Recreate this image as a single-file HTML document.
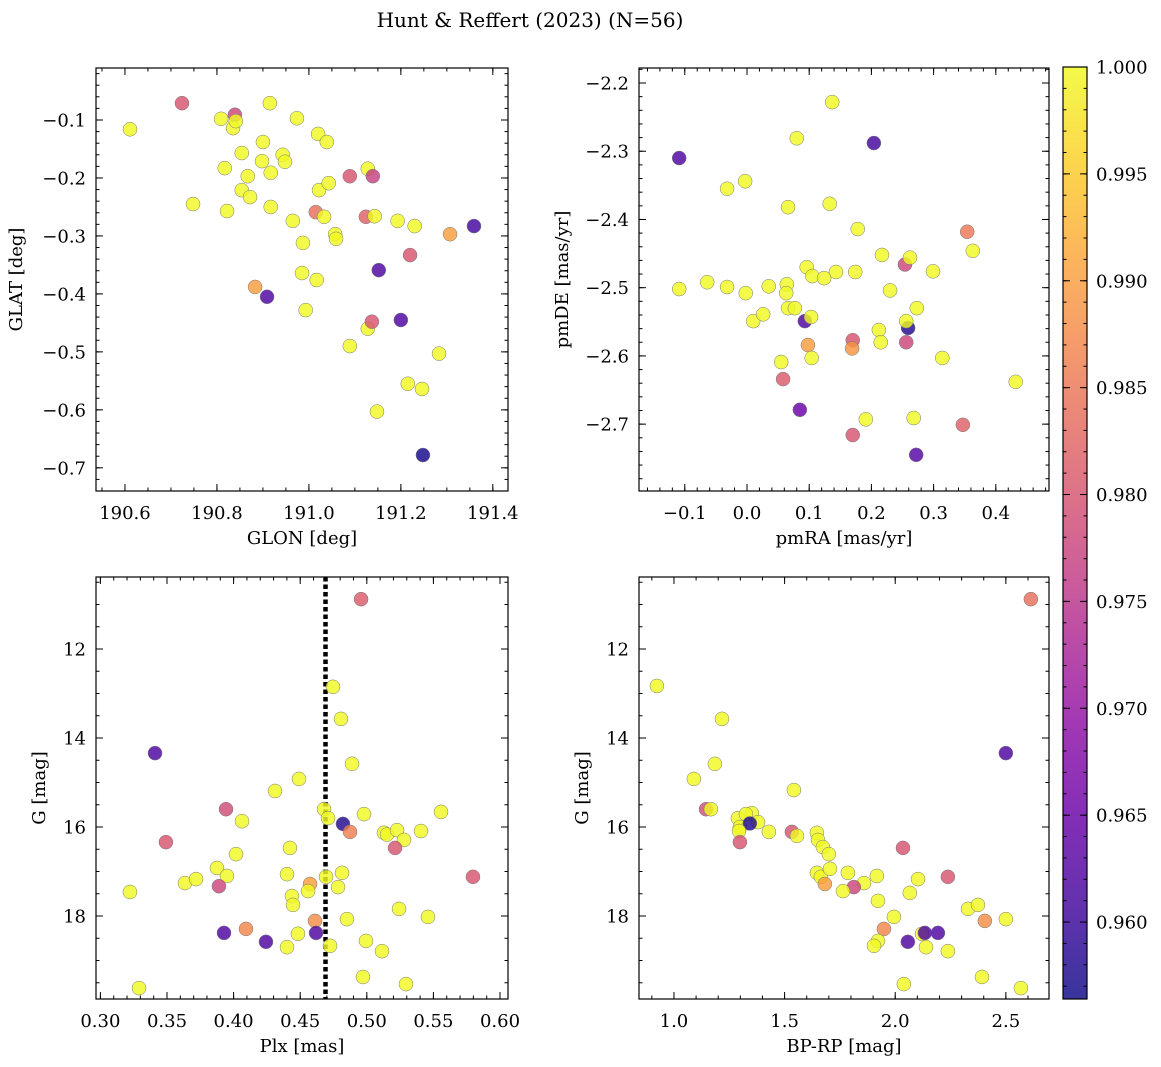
<!DOCTYPE html>
<html><head><meta charset="utf-8">
<style>
html,body{margin:0;padding:0;background:#fff;}
svg{display:block;font-family:"DejaVu Serif","Liberation Serif",serif;}
</style></head>
<body>
<svg id="fig" width="1161" height="1067" viewBox="0 0 1161 1067">
<text x="530" y="27" text-anchor="middle" font-size="20">Hunt &amp; Reffert (2023) (N=56)</text>
</svg>
<script>
// ---- Panel 1: GLON vs GLAT ----
const p1Glon=[190.611,190.724,190.809,190.839,190.835,190.841,190.915,190.974,190.900,190.854,190.817,190.867,190.898,190.943,190.948,191.020,191.039,190.917,190.854,190.872,190.748,190.822,190.917,191.022,191.043,191.089,191.128,191.139,190.965,191.015,191.033,191.124,191.143,191.193,191.230,191.359,191.307,191.057,191.059,190.987,191.152,191.220,190.985,191.017,190.883,190.909,190.993,191.089,191.128,191.137,191.200,191.283,191.215,191.246,191.148,191.248];
const p1Glat=[-0.116,-0.071,-0.098,-0.091,-0.114,-0.102,-0.071,-0.097,-0.138,-0.157,-0.183,-0.197,-0.171,-0.160,-0.172,-0.124,-0.138,-0.191,-0.221,-0.233,-0.245,-0.257,-0.250,-0.221,-0.209,-0.197,-0.184,-0.197,-0.274,-0.259,-0.267,-0.267,-0.266,-0.274,-0.283,-0.283,-0.297,-0.297,-0.305,-0.312,-0.359,-0.333,-0.364,-0.376,-0.388,-0.405,-0.428,-0.490,-0.460,-0.448,-0.445,-0.503,-0.555,-0.564,-0.603,-0.678];
const p1Prob=[1,0.980,1,0.978,1,1,1,1,1,1,1,1,1,1,1,1,1,1,1,1,1,1,1,1,1,0.980,1,0.977,1,0.984,1,0.982,1,1,1,0.961,0.990,1,1,1,0.962,0.980,1,1,0.990,0.962,1,1,1,0.980,0.962,1,1,1,1,0.957];
// ---- Panel 2: pmRA vs pmDE ----
const p2PmRA=[0.137,-0.109,0.204,0.080,-0.032,-0.003,0.066,0.133,0.178,0.354,0.363,0.096,0.143,0.174,0.217,0.254,0.262,0.299,-0.109,-0.064,-0.032,-0.002,0.035,0.064,0.063,0.105,0.124,0.230,0.010,0.026,0.066,0.077,0.093,0.103,0.259,0.256,0.212,0.170,0.215,0.256,0.098,0.104,0.169,0.314,0.055,0.058,0.273,0.432,0.085,0.191,0.268,0.170,0.347,0.272];
const p2PmDE=[-2.228,-2.310,-2.288,-2.281,-2.355,-2.344,-2.382,-2.377,-2.414,-2.418,-2.446,-2.470,-2.477,-2.477,-2.452,-2.466,-2.456,-2.476,-2.502,-2.492,-2.499,-2.508,-2.498,-2.495,-2.508,-2.483,-2.486,-2.504,-2.549,-2.539,-2.530,-2.530,-2.549,-2.543,-2.559,-2.549,-2.562,-2.577,-2.580,-2.580,-2.584,-2.603,-2.589,-2.603,-2.609,-2.634,-2.530,-2.638,-2.679,-2.693,-2.691,-2.716,-2.701,-2.745];
const p2Prob=[1,0.962,0.961,1,1,1,1,1,1,0.985,1,1,1,1,1,0.978,1,1,1,1,1,1,1,1,1,1,1,1,1,1,1,1,0.962,1,0.958,1,1,0.980,1,0.978,0.990,1,0.989,1,1,0.981,1,1,0.965,1,1,0.980,0.982,0.963];
// ---- Panel 3: Plx vs G ----
const p3Plx=[0.4957,0.4746,0.4806,0.341,0.4889,0.4491,0.4311,0.3943,0.4679,0.4979,0.5557,0.4709,0.4821,0.4063,0.5129,0.5152,0.5227,0.5407,0.5279,0.4874,0.3492,0.5212,0.4423,0.4018,0.3875,0.3222,0.3635,0.3718,0.3950,0.3890,0.4401,0.4814,0.4694,0.4574,0.4784,0.5797,0.4559,0.4438,0.4446,0.5242,0.5459,0.4851,0.4611,0.3928,0.4093,0.4483,0.4619,0.4994,0.4243,0.4401,0.4724,0.5114,0.4971,0.5294,0.3290];
const p3G=[10.88,12.85,13.57,14.34,14.58,14.92,15.19,15.60,15.60,15.71,15.66,15.80,15.93,15.87,16.13,16.17,16.07,16.09,16.29,16.11,16.34,16.47,16.47,16.61,16.92,17.46,17.26,17.17,17.10,17.33,17.06,17.03,17.12,17.28,17.35,17.12,17.44,17.55,17.75,17.84,18.02,18.07,18.11,18.38,18.29,18.40,18.38,18.56,18.58,18.70,18.67,18.79,19.37,19.53,19.62];
const p3Prob=[0.981,1,1,0.962,1,1,1,0.979,1,1,1,1,0.958,1,1,1,1,1,1,0.986,0.980,0.980,1,1,1,1,1,1,1,0.978,1,1,1,0.990,1,0.980,1,1,1,1,1,1,0.988,0.962,0.987,1,0.962,1,0.962,1,1,1,1,1,1];
const plxRef=[0.469];
// ---- Panel 4: BP-RP vs G ----
const p4Color=[2.613,0.923,1.217,1.185,1.090,2.500,1.542,1.145,1.167,1.289,1.352,1.325,1.380,1.298,1.343,1.429,1.294,1.533,1.556,1.646,1.651,1.298,1.673,1.700,2.035,1.646,1.664,1.682,1.705,1.786,1.859,1.813,1.917,1.764,2.103,2.238,2.066,1.922,2.329,2.374,2.500,2.405,1.994,1.949,1.922,1.904,2.121,2.134,2.193,2.057,2.139,2.238,2.039,2.392,2.568];
const p4G=[10.88,12.83,13.57,14.58,14.92,14.34,15.17,15.60,15.60,15.80,15.69,15.71,15.89,16.00,15.92,16.11,16.09,16.11,16.20,16.13,16.29,16.34,16.45,16.61,16.47,17.03,17.12,17.28,16.94,17.03,17.26,17.35,17.10,17.44,17.17,17.12,17.48,17.66,17.84,17.75,18.07,18.11,18.02,18.29,18.56,18.67,18.40,18.38,18.38,18.58,18.70,18.79,19.53,19.37,19.62];
const p4Prob=[0.984,1,1,1,1,0.962,1,0.979,1,1,1,1,1,1,0.958,1,1,0.980,1,1,1,0.980,1,1,0.980,1,1,0.990,1,1,1,0.978,1,1,1,0.980,1,1,1,1,1,0.988,1,0.987,1,1,1,0.962,0.962,0.962,1,1,1,1,1];
// ---- Colorbar ----
const cbTicks=[1.000,0.995,0.990,0.985,0.980,0.975,0.970,0.965,0.960];
const cbMin=0.9564, cbMax=1.0;

const NS="http://www.w3.org/2000/svg";
const svg=document.getElementById('fig');
function mk(tag,attrs,parent){const e=document.createElementNS(NS,tag);for(const k in attrs)e.setAttribute(k,attrs[k]);(parent||svg).appendChild(e);return e;}
const plasma=[[13,8,135],[65,4,157],[106,0,168],[143,13,164],[177,42,144],[204,71,120],[225,100,98],[242,132,75],[252,166,54],[252,206,37],[240,249,33]];
function cmap(v){let t=(v-cbMin)/(cbMax-cbMin);t=Math.max(0,Math.min(1,t));const f=t*10,i=Math.min(9,Math.floor(f)),r=f-i;const a=plasma[i],b=plasma[i+1];return 'rgb('+a.map((c,k)=>Math.round(c+(b[k]-c)*r)).join(',')+')';}
function fmt(v,d){return (v<0?'\u2212':'')+Math.abs(v).toFixed(d);}
const TF=18, LF=18;

function panel(o){
  const g=mk('g',{});
  
  
  const sx=v=>o.x0+(v-o.xmin)/(o.xmax-o.xmin)*(o.x1-o.x0);
  const sy=o.yinv?(v=>o.y0+(v-o.ymin)/(o.ymax-o.ymin)*(o.y1-o.y0)):(v=>o.y1-(v-o.ymin)/(o.ymax-o.ymin)*(o.y1-o.y0));
  o.sx=sx;o.sy=sy;
  const tg=mk('g',{stroke:'#000','stroke-width':1},g);
  const eps=1e-9;
  function ticks(min,max,step){const a=[];let s=Math.ceil((min-eps)/step);for(let k=s;k*step<=max+eps;k++)a.push(k*step);return a;}
  for(const v of ticks(o.xmin,o.xmax,o.xminor)){const x=sx(v);mk('line',{x1:x,x2:x,y1:o.y1,y2:o.y1-3.5},tg);mk('line',{x1:x,x2:x,y1:o.y0,y2:o.y0+3.5},tg);}
  for(const v of ticks(o.ymin,o.ymax,o.yminor)){const y=sy(v);mk('line',{x1:o.x0,x2:o.x0+3.5,y1:y,y2:y},tg);mk('line',{x1:o.x1,x2:o.x1-3.5,y1:y,y2:y},tg);}
  for(const v of ticks(o.xmin,o.xmax,o.xmajor)){const x=sx(v);mk('line',{x1:x,x2:x,y1:o.y1,y2:o.y1-7},tg);mk('line',{x1:x,x2:x,y1:o.y0,y2:o.y0+7},tg);
    const t=mk('text',{x:x,y:o.y1+28,'text-anchor':'middle','font-size':TF},g);t.textContent=fmt(v,o.xd);
    
    }
  for(const v of ticks(o.ymin,o.ymax,o.ymajor)){const y=sy(v);mk('line',{x1:o.x0,x2:o.x0+7,y1:y,y2:y},tg);mk('line',{x1:o.x1,x2:o.x1-7,y1:y,y2:y},tg);
    const t=mk('text',{x:o.x0-10,y:y+6.5,'text-anchor':'end','font-size':TF},g);t.textContent=fmt(v,o.yd);
    
    }
  const xl=mk('text',{x:(o.x0+o.x1)/2,y:o.y1+53,'text-anchor':'middle','font-size':LF},g);xl.textContent=o.xlabel;
  
  
  const yl=mk('text',{x:0,y:0,'text-anchor':'middle','font-size':LF,transform:'translate('+o.ylx+','+(o.y0+o.y1)/2+') rotate(-90)'},g);yl.textContent=o.ylabel;
  
  
  if(o.extra)o.extra(g,o);
  const pg=mk('g',{},g);
  for(let i=0;i<o.xs.length;i++){
    const c=mk('circle',{cx:sx(o.xs[i]),cy:sy(o.ys[i]),r:7,fill:cmap(o.ps[i]),'fill-opacity':0.82,stroke:'#777','stroke-width':0.5},pg);
    
    
  }
  const fr=mk('rect',{x:o.x0,y:o.y0,width:o.x1-o.x0,height:o.y1-o.y0,fill:'none',stroke:'#000','stroke-width':1.2},g);
  
  
}

panel({name:'glon-glat-panel',x0:96,x1:508,y0:68,y1:491,xmin:190.537,xmax:191.433,ymin:-0.740,ymax:-0.0103,xmajor:0.2,xminor:0.05,ymajor:0.1,yminor:0.02,xd:1,yd:1,xlabel:'GLON [deg]',ylabel:'GLAT [deg]',ylx:22,xs:p1Glon,ys:p1Glat,ps:p1Prob});
panel({name:'pm-panel',x0:639,x1:1049,y0:68,y1:491,xmin:-0.1736,xmax:0.4855,ymin:-2.798,ymax:-2.178,xmajor:0.1,xminor:0.02,ymajor:0.1,yminor:0.02,xd:1,yd:1,xlabel:'pmRA [mas/yr]',ylabel:'pmDE [mas/yr]',ylx:568,xs:p2PmRA,ys:p2PmDE,ps:p2Prob});
panel({name:'plx-g-panel',x0:96,x1:508,y0:577,y1:999,xmin:0.2967,xmax:0.606,ymin:10.382,ymax:19.865,yinv:true,xmajor:0.05,xminor:0.01,ymajor:2,yminor:0.5,xd:2,yd:0,xlabel:'Plx [mas]',ylabel:'G [mag]',ylx:45,xs:p3Plx,ys:p3G,ps:p3Prob,
  extra:(g,o)=>{for(const v of plxRef){const l=mk('line',{x1:o.sx(v),x2:o.sx(v),y1:o.y0,y2:o.y1,stroke:'#000','stroke-width':4.5,'stroke-dasharray':'4.5 3'},g);
    
    }}});
panel({name:'cmd-panel',x0:639,x1:1049,y0:577,y1:999,xmin:0.842,xmax:2.695,ymin:10.382,ymax:19.865,yinv:true,xmajor:0.5,xminor:0.1,ymajor:2,yminor:0.5,xd:1,yd:0,xlabel:'BP-RP [mag]',ylabel:'G [mag]',ylx:588,xs:p4Color,ys:p4G,ps:p4Prob});

// colorbar
(function(){
  const x0=1063,x1=1087,y0=67,y1=999;
  const g=mk('g',{});
  
  
  const defs=mk('defs',{},g);
  const lg=mk('linearGradient',{id:'cbg',x1:0,y1:1,x2:0,y2:0},defs);
  for(let i=0;i<=10;i++)mk('stop',{offset:i/10,'stop-color':'rgb('+plasma[i].join(',')+')','stop-opacity':0.82},lg);
  mk('rect',{x:x0,y:y0,width:x1-x0,height:y1-y0,fill:'url(#cbg)'},g);
  const sy=v=>y1-(v-cbMin)/(cbMax-cbMin)*(y1-y0);
  for(let v=0.957;v<=1.0001;v+=0.001){const y=sy(v);mk('line',{x1:x1,x2:x1-3.5,y1:y,y2:y,stroke:'#000'},g);mk('line',{x1:x0,x2:x0+3.5,y1:y,y2:y,stroke:'#000'},g);}
  for(const v of cbTicks){const y=sy(v);mk('line',{x1:x1,x2:x1-7,y1:y,y2:y,stroke:'#000'},g);mk('line',{x1:x0,x2:x0+7,y1:y,y2:y,stroke:'#000'},g);
    const t=mk('text',{x:1096,y:y+6.5,'font-size':TF},g);t.textContent=v.toFixed(3);
    
    }
  mk('rect',{x:x0,y:y0,width:x1-x0,height:y1-y0,fill:'none',stroke:'#000','stroke-width':1.2},g);
})();
</script>
</body></html>
